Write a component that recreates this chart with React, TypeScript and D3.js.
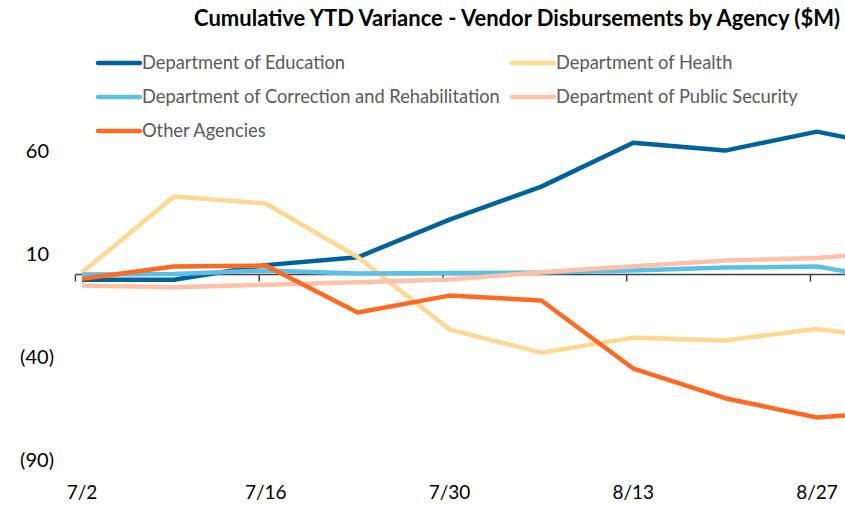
import React from 'react';
import * as d3 from 'd3';

const DATES = ['7/2', '7/9', '7/16', '7/23', '7/30', '8/6', '8/13', '8/20', '8/27', '9/3'];
const TICK_DATES = ['7/2', '7/16', '7/30', '8/13', '8/27'];
const Y_TICKS = [60, 10, -40, -90];

const EDUCATION = [-2.5, -2.5, 4.6, 8.4, 26.7, 42.7, 64, 60.2, 69.4, 60.5];
const HEALTH = [1, 37.9, 34.5, 8.5, -26.7, -37.9, -30.6, -32, -26.3, -32.5];
const CORRECTION = [0, 0.3, 2, 0.5, 0.8, 1, 2, 3.4, 3.9, -3.5];
const PUBLIC_SECURITY = [-5.3, -6.1, -4.9, -3.7, -2.4, 1.1, 4, 6.8, 8.1, 11.5];
const OTHER = [-2, 3.9, 4.4, -18.4, -10.2, -12.6, -45.6, -60, -69.4, -66.2];

const SERIES = [
  { name: 'Department of Education', values: EDUCATION, color: '#00629b' },
  { name: 'Department of Health', values: HEALTH, color: '#ffd892' },
  { name: 'Department of Correction and Rehabilitation', values: CORRECTION, color: '#5bc0e6' },
  { name: 'Department of Public Security', values: PUBLIC_SECURITY, color: '#ffc2a8' },
  { name: 'Other Agencies', values: OTHER, color: '#ff6a22' },
];

const W = 845;
const H = 505;
const FONT = 'Lato, "Open Sans", sans-serif';

const parse = d3.timeParse('%m/%d/%Y');
const toDate = (s: string) => parse(s + '/2023') as Date;

const App = () => {
  const x = d3.scaleTime()
    .domain([toDate('7/2'), toDate('8/27')])
    .range([82, 817]);
  const y = d3.scaleLinear().domain([-90, 60]).range([460, 151]);

  // Excel date axis: ticks sit half a day before each date
  const halfDay = (x(toDate('7/3')) - x(toDate('7/2'))) / 2;

  const line = d3.line<number>()
    .x((_, i) => x(toDate(DATES[i])))
    .y(d => y(d));

  const legendPos = [
    [98, 63], [512, 63],
    [98, 97], [512, 97],
    [98, 131],
  ];

  const fmt = (v: number) => (v < 0 ? `(${Math.abs(v)})` : `${v}`);

  return (
    <svg width={W} height={H} style={{ position: 'absolute', left: 0, top: 0 }} fontFamily={FONT}>
      <rect width={W} height={H} fill="#fff" />
      <text x={840} y={26} textAnchor="end" fontWeight="bold" fontSize={22} fill="#000">
        Cumulative YTD Variance - Vendor Disbursements by Agency ($M)
      </text>

      {SERIES.map((s, i) => (
        <g key={s.name} transform={`translate(${legendPos[i][0]},${legendPos[i][1]})`}>
          <line x1={0} x2={42} y1={0} y2={0} stroke={s.color} strokeWidth={4.5} strokeLinecap="round" />
          <text x={44} y={0} dy="0.35em" fontSize={18.3} fill="#595959">{s.name}</text>
        </g>
      ))}

      {Y_TICKS.map(v => (
        <text key={v} x={v < 0 ? 54 : 49} y={y(v)} dy="0.35em" textAnchor="end" fontSize={20} fill="#000">
          {fmt(v)}
        </text>
      ))}

      <line x1={x(toDate('7/2')) - halfDay} x2={W} y1={y(0)} y2={y(0)} stroke="#404040" strokeWidth={1.5} />
      {TICK_DATES.map(d => (
        <line key={d} x1={x(toDate(d)) - halfDay} x2={x(toDate(d)) - halfDay} y1={y(0)} y2={y(0) + 7}
          stroke="#404040" strokeWidth={1.5} />
      ))}

      {SERIES.map(s => (
        <path key={s.name} d={line(s.values) || ''} fill="none" stroke={s.color} strokeWidth={4.5}
          strokeLinejoin="round" />
      ))}

      {TICK_DATES.map(d => (
        <text key={d} x={x(toDate(d))} y={492} dy="0.35em" textAnchor="middle" fontSize={19} fill="#000">
          {d}
        </text>
      ))}
    </svg>
  );
};

export default App;
